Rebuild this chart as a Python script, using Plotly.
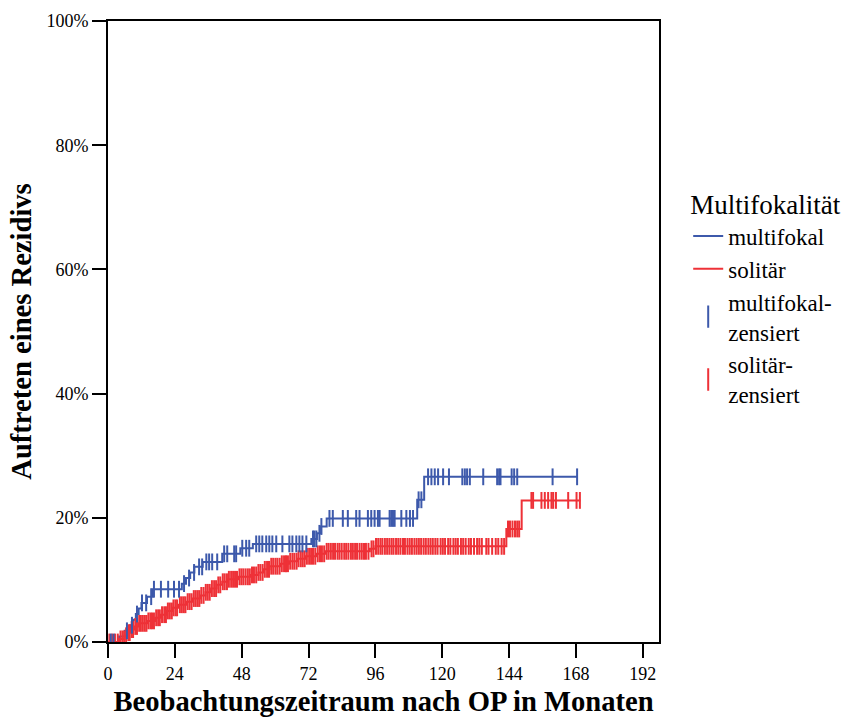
import numpy as np
import plotly.graph_objects as go

# ---- data ----
# cumulative incidence step functions (% recurrence), time in months
multi_times = [0, 4, 6, 8, 9, 10, 11, 12, 14, 16, 26.5, 28, 29.5, 31, 34, 41, 47.5, 52,
               73, 75, 76.5, 78.5, 111, 113.5, 168.6]
multi_vals = [0, 0.9, 1.8, 2.7, 3.6, 4.5, 5.4, 6.3, 7.3, 8.5, 9.4, 10.3, 11.2, 12.1, 12.9,
              14.2, 15.1, 15.8, 16.6, 17.5, 18.6, 19.9, 22.9, 26.6, 26.6]

soli_times = [0, 4, 6, 7, 8, 9.5, 11, 14, 17, 19, 21, 23, 25.5, 28, 30.5, 33, 35, 37, 39,
              41, 43, 47, 51, 54, 56, 58, 62, 65, 68, 71, 75, 78, 94, 96, 143, 148.5, 169.6]
soli_vals = [0, 0.5, 1.0, 1.5, 2.0, 2.5, 3.0, 3.4, 3.9, 4.4, 5.0, 5.5, 6.0, 6.5, 7.0, 7.5,
             8.0, 8.6, 9.2, 9.7, 10.1, 10.5, 10.8, 11.2, 11.7, 12.2, 12.6, 13.0, 13.4, 13.8,
             14.2, 14.6, 15.0, 15.4, 18.2, 22.8, 22.8]

multi_cens = [1.0, 2.0, 6.8, 8.6, 10.4, 12.2, 13.7, 15.5, 16.5, 19.0, 21.6, 23.7, 25.5, 27.3,
              29.1, 30.9, 32.7, 33.8, 35.3, 36.3, 37.4, 39.2, 41.7, 42.8, 45.3, 46.0, 48.2,
              49.6, 50.7, 53.2, 54.3, 55.4, 56.8, 57.9, 59.0, 60.4, 62.6, 65.1, 66.2, 67.6,
              68.7, 69.8, 71.2, 73.6, 74.1, 74.8, 75.9, 76.6, 79.5, 80.7, 84.3, 86.1, 89.1,
              90.3, 93.3, 94.5, 95.7, 96.9, 97.5, 101.1, 101.7, 102.3, 102.9, 105.3, 107.1,
              108.4, 109.5, 111.5, 112.5, 114.9, 116.1, 117.3, 118.5, 120.3, 122.4, 127.2,
              128.1, 128.9, 129.9, 134.7, 139.7, 140.4, 140.9, 144.9, 145.8, 146.9, 159.6,
              168.4]

soli_cens = [0.5, 1.5, 2.5, 3.5, 4.5, 5.2, 5.8, 6.5, 7.3, 7.8, 8.5, 9.0, 9.8, 10.4, 11.2,
             11.8, 12.5, 13.2, 13.8, 14.5, 15.2, 15.8, 16.5, 17.3, 18.0, 18.6, 19.4, 20.2,
             20.8, 21.5, 22.2, 22.9, 23.5, 24.2, 24.8, 25.8, 26.5, 27.2, 27.8, 28.6, 29.3,
             30.0, 30.8, 31.5, 32.2, 32.8, 33.5, 34.3, 35.1, 35.8, 36.5, 37.3, 38.1, 38.8,
             39.6, 40.3, 41.2, 41.9, 42.7, 43.4, 44.2, 44.9, 45.6, 46.3, 47.2, 47.9, 48.6,
             49.4, 50.2, 50.9, 51.7, 52.4, 53.2, 54.0, 54.7, 55.5, 56.3, 57.1, 57.8, 58.6,
             59.3, 60.1, 60.8, 61.6, 62.4, 63.2, 63.9, 64.6, 65.4, 66.2, 66.9, 67.7, 68.4,
             69.2, 69.9, 70.6, 71.4, 72.2, 72.9, 73.6, 74.4, 75.3, 76.1, 76.8, 77.6, 78.5,
             79.2, 80.0, 80.8, 81.5, 82.4, 83.1, 83.9, 84.8, 85.5, 86.3, 87.2, 87.9, 88.7,
             89.4, 90.3, 91.1, 91.9, 92.6, 93.5, 94.6, 95.3, 96.2, 97.0, 97.8, 98.5, 99.4,
             100.2, 101.0, 101.8, 102.5, 103.4, 104.2, 105.0, 105.9, 106.6, 107.5, 108.3,
             109.1, 110.0, 110.8, 111.6, 112.4, 113.3, 114.1, 115.0, 115.8, 116.6, 117.5,
             118.3, 119.4, 120.2, 121.0, 122.1, 122.9, 124.0, 124.8, 125.6, 126.7, 127.5,
             128.4, 129.5, 130.3, 131.4, 132.5, 133.3, 134.2, 135.8, 136.6, 137.9, 139.2,
             140.1, 141.3, 142.2, 143.6, 144.3, 145.2, 146.1, 146.9, 147.6, 152.0, 152.6,
             155.6, 156.8, 158.0, 159.2, 159.8, 160.8, 165.2, 168.2, 169.4]

x_ticks = [0, 24, 48, 72, 96, 120, 144, 168, 192]
y_ticks = [0, 20, 40, 60, 80, 100]

BLUE = "#3d59ab"
RED = "#ee3137"
FONT = "Liberation Serif, Times New Roman, serif"


def step_at(times, vals, c):
    t = np.asarray(times)
    v = np.asarray(vals)
    idx = np.searchsorted(t, np.asarray(c), side="right") - 1
    return v[idx]


fig = go.Figure()

fig.add_trace(go.Scatter(x=multi_times, y=multi_vals, mode="lines", line_shape="hv",
                         line=dict(color=BLUE, width=2), name="multifokal"))
fig.add_trace(go.Scatter(x=soli_times, y=soli_vals, mode="lines", line_shape="hv",
                         line=dict(color=RED, width=2), name="solitär"))

fig.add_trace(go.Scatter(x=soli_cens, y=step_at(soli_times, soli_vals, soli_cens),
                         mode="markers", showlegend=False,
                         marker=dict(symbol="line-ns", size=12,
                                     line=dict(color=RED, width=2))))
fig.add_trace(go.Scatter(x=multi_cens, y=step_at(multi_times, multi_vals, multi_cens),
                         mode="markers", showlegend=False,
                         marker=dict(symbol="line-ns", size=12,
                                     line=dict(color=BLUE, width=2))))

# legend entries for censored markers
fig.add_trace(go.Scatter(x=[None], y=[None], mode="markers", name="multifokal-<br>zensiert",
                         marker=dict(symbol="line-ns", size=16,
                                     line=dict(color=BLUE, width=2))))
fig.add_trace(go.Scatter(x=[None], y=[None], mode="markers", name="solitär-<br>zensiert",
                         marker=dict(symbol="line-ns", size=16,
                                     line=dict(color=RED, width=2))))

fig.update_layout(
    width=856, height=717,
    margin=dict(l=108, r=197, t=21, b=75, autoexpand=False),
    paper_bgcolor="white", plot_bgcolor="white",
    font=dict(family=FONT, color="black", size=18),
    showlegend=True,
    legend=dict(
        title=dict(text="Multifokalität", font=dict(size=27, family=FONT, color="black")),
        font=dict(size=23, family=FONT, color="black"),
        x=1.053, xanchor="left", y=0.745, yanchor="top",
        bgcolor="rgba(0,0,0,0)", tracegroupgap=0,
    ),
    xaxis=dict(
        range=[0, 197.8], tickvals=x_ticks, ticktext=[str(v) for v in x_ticks],
        showline=True, linecolor="black", linewidth=2, mirror=True,
        ticks="outside", ticklen=14, tickwidth=2, tickcolor="black",
        showgrid=False, zeroline=False, automargin=False,
        tickfont=dict(size=18, family=FONT),
        title=dict(text="<b>Beobachtungszeitraum nach OP in Monaten</b>",
                   font=dict(size=28.6, family=FONT), standoff=13),
    ),
    yaxis=dict(
        range=[0, 100], tickvals=y_ticks, ticktext=[f"{v}%" for v in y_ticks],
        showline=True, linecolor="black", linewidth=2, mirror=True,
        ticks="outside", ticklen=14, tickwidth=2, tickcolor="black",
        showgrid=False, zeroline=False, automargin=False,
        tickfont=dict(size=18, family=FONT),
        title=dict(text="<b>Auftreten eines Rezidivs</b>",
                   font=dict(size=28.6, family=FONT), standoff=6),
    ),
)

fig.write_html("out.html")
